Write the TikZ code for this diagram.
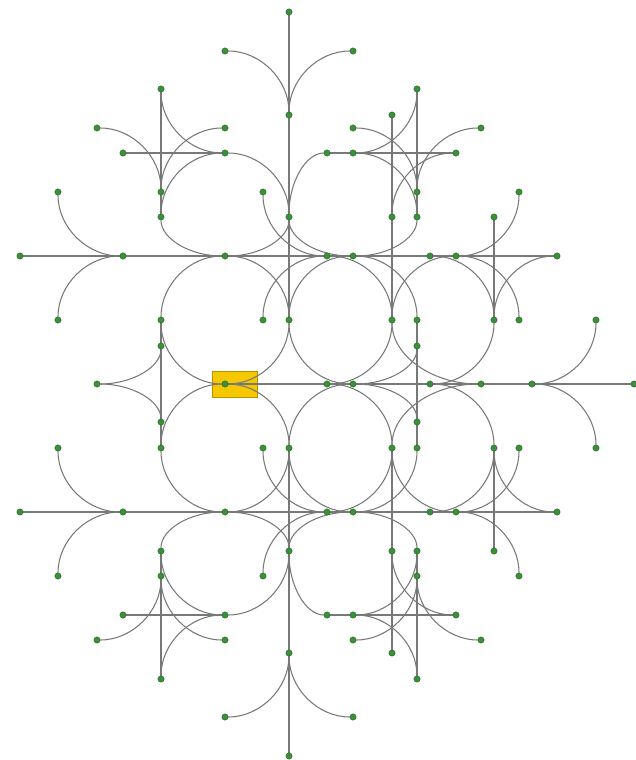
\documentclass[tikz,border=0pt]{standalone}
\usetikzlibrary{calc,backgrounds}
\definecolor{edgec}{RGB}{120,120,120}
\definecolor{dotc}{RGB}{58,145,58}
\definecolor{dotb}{RGB}{32,95,32}
\definecolor{boxf}{RGB}{246,200,0}
\definecolor{boxd}{RGB}{185,145,0}
\tikzset{
  dot/.style={circle, fill=dotc, draw=dotb, line width=0.4pt, inner sep=0pt, minimum size=6.3pt},
  edgeline/.style={draw=edgec, line width=1.05pt},
  rootbox/.style={draw=boxd, fill=boxf, line width=0.6pt, inner sep=0pt, minimum width=45pt, minimum height=26pt}
}
\newcommand\mir[1]{\the\numexpr768-#1\relax}
% node and its mirror about y=384
\newcommand\ND[2]{\node[dot] (n#1y#2) at (#1,#2) {};%
  \ifnum#2<384 \edef\tmpn{\noexpand\node[dot] (n#1y\mir{#2}) at (#1,\mir{#2}) {};}\tmpn\fi}
% straight line and its mirror
\newcommand\LN[4]{\edef\tmpl{\noexpand\draw[edgeline] (n#1y#2) -- (n#3y#4);%
  \noexpand\draw[edgeline] (n#1y\mir{#2}) -- (n#3y\mir{#4});}\tmpl}
% quarter arc leaving A vertically, reaching B horizontally
\newcommand\cvv[2]{\draw[edgeline] (#1) .. controls ($(#1)!0.5523!(#1|-#2)$) and ($(#2)!0.5523!(#1|-#2)$) .. (#2);}
\newcommand\CV[4]{\edef\tmpc{\noexpand\cvv{n#1y#2}{n#3y#4}\noexpand\cvv{n#1y\mir{#2}}{n#3y\mir{#4}}}\tmpc}
% quarter arc leaving A horizontally, reaching B vertically
\newcommand\CH[4]{\CV{#3}{#4}{#1}{#2}}
\begin{document}
\begin{tikzpicture}[x=1pt,y=-1pt]
\useasboundingbox (0,0) rectangle (635,760);
% nodes (top half, mirrored automatically)
\ND{289}{12}
\ND{225}{51}\ND{353}{51}
\ND{161}{89}\ND{417}{89}
\ND{289}{115}\ND{392}{115}
\ND{97}{128}\ND{225}{128}\ND{353}{128}\ND{481}{128}
\ND{123}{153}\ND{225}{153}\ND{327}{153}\ND{353}{153}\ND{456}{153}
\ND{58}{192}\ND{161}{192}\ND{263}{192}\ND{417}{192}\ND{519}{192}
\ND{161}{217}\ND{289}{217}\ND{392}{217}\ND{417}{217}\ND{494}{217}
\ND{20}{256}\ND{123}{256}\ND{225}{256}\ND{327}{256}\ND{353}{256}\ND{430}{256}\ND{456}{256}\ND{557}{256}
\ND{58}{320}\ND{161}{320}\ND{263}{320}\ND{289}{320}\ND{392}{320}\ND{417}{320}\ND{494}{320}\ND{519}{320}\ND{596}{320}
\ND{161}{346}\ND{417}{346}
\ND{97}{384}\ND{225}{384}\ND{327}{384}\ND{353}{384}\ND{430}{384}\ND{481}{384}\ND{532}{384}\ND{634}{384}
\begin{pgfonlayer}{background}
\node[rootbox] (root) at (234.5,384) {};
% straight lines
\LN{289}{12}{289}{115}\LN{289}{115}{289}{217}\LN{289}{217}{289}{320}
\LN{161}{89}{161}{192}\LN{161}{192}{161}{217}
\LN{123}{153}{225}{153}
\LN{20}{256}{123}{256}\LN{123}{256}{225}{256}\LN{225}{256}{327}{256}\LN{327}{256}{353}{256}
\LN{353}{256}{430}{256}\LN{430}{256}{456}{256}\LN{456}{256}{557}{256}
\LN{327}{153}{353}{153}\LN{353}{153}{456}{153}
\LN{417}{89}{417}{192}\LN{417}{192}{417}{217}
\LN{392}{115}{392}{217}\LN{392}{217}{392}{320}
\LN{494}{217}{494}{320}
\LN{161}{320}{161}{346}\LN{417}{320}{417}{346}
\draw[edgeline] (n161y346) -- (n161y422);
\draw[edgeline] (n417y346) -- (n417y422);
\draw[edgeline] (n225y384) -- (n327y384) -- (n353y384) -- (n430y384) -- (n481y384) -- (n532y384) -- (n634y384);
% arcs
\CH{225}{51}{289}{115}\CH{353}{51}{289}{115}
\CH{225}{153}{289}{217}\CH{327}{153}{289}{217}
\CV{263}{192}{327}{256}\CV{263}{320}{327}{256}
\CV{161}{89}{225}{153}
\CH{97}{128}{161}{192}\CH{225}{128}{161}{192}
\CH{225}{153}{161}{217}\CV{161}{217}{225}{256}
\CV{289}{217}{225}{256}\CV{289}{217}{353}{256}
\CH{353}{153}{417}{217}\CV{417}{217}{353}{256}
\CV{417}{89}{353}{153}
\CH{353}{128}{417}{192}\CH{481}{128}{417}{192}
\CV{392}{217}{456}{153}
\CV{58}{192}{123}{256}\CV{58}{320}{123}{256}
\CH{225}{256}{161}{320}\CV{161}{320}{225}{384}
\CH{225}{384}{289}{320}\CV{289}{320}{225}{256}
\CH{97}{384}{161}{346}
\CH{353}{256}{289}{320}\CH{353}{384}{289}{320}
\CH{327}{256}{392}{320}\CH{327}{384}{392}{320}
\CH{353}{256}{417}{320}\CH{353}{384}{417}{346}
\CH{430}{256}{494}{320}\CH{430}{384}{494}{320}
\CH{456}{256}{392}{320}\CH{481}{384}{392}{320}
\CH{456}{256}{519}{320}\CV{519}{192}{456}{256}
\CV{494}{320}{557}{256}
\CH{532}{384}{596}{320}
\end{pgfonlayer}
\end{tikzpicture}
\end{document}
